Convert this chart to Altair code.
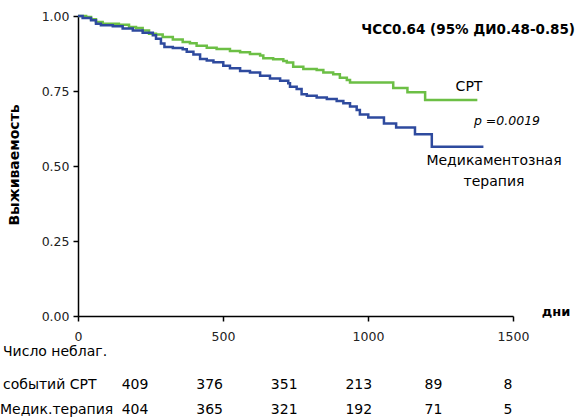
import altair as alt
import pandas as pd

# --- data ---
crt_days = [0, 28, 45, 62, 85, 141, 176, 200, 223, 245, 269, 292, 327, 361, 386, 409, 444, 478,
            524, 559, 593, 628, 639, 673, 708, 720, 742, 777, 823, 846, 880, 903, 927, 938,
            1087, 1136, 1197, 1377]
crt_surv = [1.0, 0.997, 0.989, 0.980, 0.974, 0.971, 0.963, 0.960, 0.952, 0.941, 0.938, 0.930, 0.922,
            0.913, 0.909, 0.901, 0.894, 0.890, 0.883, 0.879, 0.873, 0.868, 0.859, 0.856, 0.850, 0.845,
            0.831, 0.823, 0.820, 0.812, 0.806, 0.794, 0.787, 0.778, 0.760, 0.746, 0.720, 0.720]

med_days = [0, 16, 45, 62, 79, 120, 154, 189, 223, 258, 269, 286, 298, 327, 361, 375, 398, 421,
            444, 467, 501, 524, 559, 593, 628, 662, 697, 725, 731, 754, 771, 789, 823, 858, 892,
            915, 938, 961, 972, 1001, 1055, 1097, 1162, 1220, 1398]
med_surv = [1.0, 0.993, 0.986, 0.974, 0.969, 0.966, 0.958, 0.952, 0.944, 0.936, 0.924, 0.908, 0.897,
            0.893, 0.889, 0.881, 0.872, 0.857, 0.852, 0.846, 0.834, 0.826, 0.817, 0.812, 0.801, 0.792,
            0.784, 0.776, 0.764, 0.757, 0.739, 0.734, 0.728, 0.723, 0.717, 0.709, 0.698, 0.687, 0.672,
            0.662, 0.642, 0.628, 0.606, 0.564, 0.564]

groups = ["СРТ", "Медикаментозная терапия"]
colors = ["#6cbf45", "#2e4a9e"]

x_ticks = [0, 500, 1000, 1500]
y_ticks = [0.0, 0.25, 0.5, 0.75, 1.0]

risk_cols = [0, 1, 2, 3, 4, 5]
crt_risk = [409, 376, 351, 213, 89, 8]
med_risk = [404, 365, 321, 192, 71, 5]

FONT = "DejaVu Sans"

curves = pd.DataFrame(
    [{"day": d, "surv": s, "group": groups[0]} for d, s in zip(crt_days, crt_surv)]
    + [{"day": d, "surv": s, "group": groups[1]} for d, s in zip(med_days, med_surv)]
)

lines = alt.Chart(curves).mark_line(interpolate="step-after", strokeWidth=2.5).encode(
    x=alt.X("day:Q", scale=alt.Scale(domain=[0, 1500], nice=False),
            axis=alt.Axis(values=x_ticks, title=None, grid=False, format="d",
                          labelPadding=9, labelFlush=False)),
    y=alt.Y("surv:Q", scale=alt.Scale(domain=[0, 1], nice=False),
            axis=alt.Axis(values=y_ticks, title=None, grid=False, format=".2f",
                          labelPadding=4, labelFlush=False)),
    color=alt.Color("group:N", scale=alt.Scale(domain=groups, range=colors), legend=None),
)

# annotations (pixel positions inside the view)
ann = pd.DataFrame([
    {"t": "ЧСС0.64 (95% ДИ0.48-0.85)", "px": 497, "py": 14},
    {"t": "СРТ", "px": 391, "py": 71},
    {"t": "p =0.0019", "px": 429, "py": 105},
    {"t": "Медикаментозная", "px": 416, "py": 145},
    {"t": "терапия", "px": 416, "py": 166},
    {"t": "дни", "px": 478, "py": 296},
])

def ann_layer(df, size=14, **kw):
    return alt.Chart(df).mark_text(font=FONT, fontSize=size, baseline="middle", color="black", **kw).encode(
        x=alt.X("px:Q", scale=None, axis=None),
        y=alt.Y("py:Q", scale=None, axis=None),
        text="t:N",
    )

a_bold_r = ann_layer(ann[ann.t.str.startswith("ЧСС")], size=13.5, fontWeight="bold", align="right")
a_plain = ann_layer(ann[ann.t.isin(["СРТ", "Медикаментозная", "терапия"])], align="center")
a_ital = ann_layer(ann[ann.t.str.startswith("p")], size=12.5, fontStyle="italic", align="center")
a_days = ann_layer(ann[ann.t == "дни"], size=13, fontWeight="bold", align="center")

ytitle = alt.Chart(pd.DataFrame({"t": ["Выживаемость"]})).mark_text(
    font=FONT, fontSize=14, fontWeight="bold", angle=270, align="center", baseline="middle"
).encode(x=alt.value(-63), y=alt.value(149), text="t:N")

table_labels = pd.DataFrame([
    {"t": "Число неблаг.", "px": -75, "py": 336},
    {"t": "событий СРТ", "px": -75, "py": 369},
    {"t": "Медик.терапия", "px": -78, "py": 394},
])
tlab = ann_layer(table_labels, align="left")

risk = pd.DataFrame(
    [{"col": c, "n": str(n), "row": 369} for c, n in zip(risk_cols, crt_risk)]
    + [{"col": c, "n": str(n), "row": 394} for c, n in zip(risk_cols, med_risk)]
)
risk_txt = alt.Chart(risk).mark_text(font=FONT, fontSize=14, align="center", baseline="middle").encode(
    x=alt.X("col:Q", scale=alt.Scale(domain=[0, 5], range=[57, 430]), axis=None),
    y=alt.Y("row:Q", scale=None, axis=None),
    text="n:N",
)

chart = alt.layer(
    lines, a_bold_r, a_plain, a_ital, a_days, ytitle, tlab, risk_txt
).resolve_scale(x="independent", y="independent").properties(
    width=435, height=300,
    autosize=alt.AutoSizeParams(type="none"),
    padding={"left": 78, "top": 16, "right": 67, "bottom": 104},
).configure_view(stroke=None).configure_axis(
    domainColor="black", domainWidth=1.5, tickColor="black", tickWidth=1.5, tickSize=5,
    labelFont=FONT, labelFontSize=12.5, labelColor="#222",
)

chart.save("out.html", embed_options={"renderer": "svg", "actions": False})
